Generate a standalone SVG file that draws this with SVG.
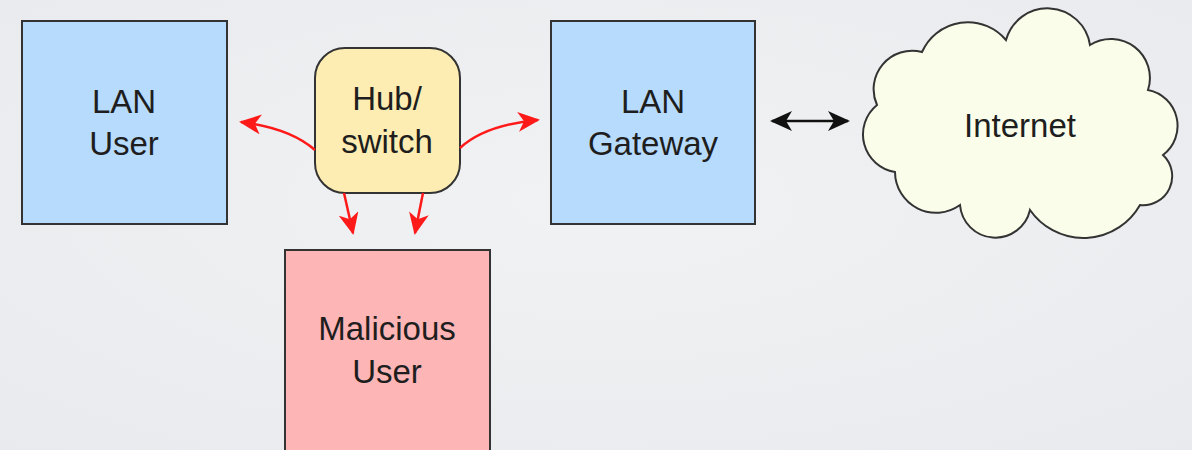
<svg xmlns="http://www.w3.org/2000/svg" width="1192" height="450" viewBox="0 0 1192 450">
<defs>
<radialGradient id="bg" cx="50%" cy="45%" r="75%">
<stop offset="0" stop-color="#f1f2f4"/>
<stop offset="1" stop-color="#e9eaed"/>
</radialGradient>
<marker id="ra" viewBox="0 0 22 20" refX="20" refY="10" markerWidth="22" markerHeight="20" markerUnits="userSpaceOnUse" orient="auto">
<path d="M0,0 L22,10 L0,20 L6,10 Z" fill="#ff1a1a"/>
</marker>
<marker id="ka" viewBox="0 0 22 20" refX="20" refY="10" markerWidth="22" markerHeight="20" markerUnits="userSpaceOnUse" orient="auto-start-reverse">
<path d="M0,0 L22,10 L0,20 L6,10 Z" fill="#111"/>
</marker>
</defs>
<style>
.box{stroke:#333;stroke-width:2}
.t{font-family:"Liberation Sans",Arial,sans-serif;font-size:33px;fill:#1e1e1e;text-anchor:middle}
.red{fill:none;stroke:#ff1a1a;stroke-width:2.5}
</style>
<rect width="1192" height="450" fill="url(#bg)"/>
<g id="lan-user">
<rect class="box" x="22" y="21" width="205" height="203" fill="#b7dbfd"/>
<text class="t" x="124" y="113">LAN</text>
<text class="t" x="124" y="155">User</text>
</g>
<g id="hub">
<rect class="box" x="315" y="48" width="145" height="145" rx="30" fill="#fdedb2"/>
<text class="t" x="387" y="110">Hub/</text>
<text class="t" x="387" y="153">switch</text>
</g>
<g id="lan-gateway">
<rect class="box" x="551" y="21" width="204" height="203" fill="#b7dbfd"/>
<text class="t" x="653" y="113">LAN</text>
<text class="t" x="653" y="155">Gateway</text>
</g>
<g id="internet">
<path class="box" fill="#fafde9" d="M922,52 A50,50 0 0 1 1006,40 A43,43 0 0 1 1090,45 A39,39 0 0 1 1148,90 A36.5,36.5 0 0 1 1163,155 A29,29 0 0 1 1140,205 A65,65 0 0 1 1030,210 A35.5,35.5 0 0 1 960,205 A41,41 0 0 1 895,172 A38,38 0 0 1 877,105 A38.5,38.5 0 0 1 922,52 Z"/>
<text class="t" x="1020" y="137">Internet</text>
</g>
<g id="malicious-user">
<rect class="box" x="285" y="250" width="205" height="215" fill="#fdb5b5"/>
<text class="t" x="387" y="340">Malicious</text>
<text class="t" x="387" y="383">User</text>
</g>
<g id="connectors">
<path class="red" d="M315,150 Q290,128 241,122" marker-end="url(#ra)"/>
<path class="red" d="M460,148 Q485,125 538,120" marker-end="url(#ra)"/>
<path class="red" d="M344,193 L353,233" marker-end="url(#ra)"/>
<path class="red" d="M423,193 L415,233" marker-end="url(#ra)"/>
<path d="M772,121 L848,121" stroke="#111" stroke-width="2.5" fill="none" marker-start="url(#ka)" marker-end="url(#ka)"/>
</g>
</svg>
